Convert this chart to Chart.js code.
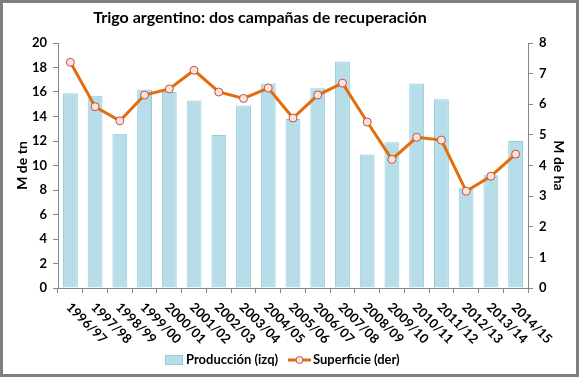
<!DOCTYPE html>
<html>
<head>
<meta charset="utf-8">
<script src="https://cdn.jsdelivr.net/npm/chart.js@4"></script>
<style>
html,body{margin:0;padding:0;background:#fff}
#wrap{width:579px;height:377px;position:relative}
</style>
</head>
<body>
<div id="wrap"><canvas id="chart" width="579" height="377"></canvas></div>
<script>
const campanas = ["1996/97","1997/98","1998/99","1999/00","2000/01","2001/02","2002/03","2003/04","2004/05","2005/06","2006/07","2007/08","2008/09","2009/10","2010/11","2011/12","2012/13","2013/14","2014/15"]
const produccion = [15.9,15.7,12.6,16.2,16.0,15.3,12.5,14.9,16.7,13.8,16.3,18.5,10.9,11.9,16.7,15.4,8.2,9.2,12.0]
const superficie = [7.37,5.92,5.46,6.30,6.50,7.11,6.40,6.19,6.53,5.55,6.30,6.69,5.42,4.20,4.92,4.83,3.16,3.65,4.37]

const titulo = "Trigo argentino: dos campañas de recuperación"
const nombreBarras = "Producción (izq)"
const nombreLinea = "Superficie (der)"

const fuente = "Lato, 'Open Sans', sans-serif"
const gris = "#868686"

const extras = {
id:"extras",
afterDraw(chart){
const ctx = chart.ctx
const x = chart.scales.x
ctx.save()
// marco
ctx.strokeStyle = "#7f7f7f"
ctx.lineWidth = 3
ctx.strokeRect(1.5,1.5,576,374)
// titulo
ctx.fillStyle = "#000"
ctx.font = "bold 16px " + fuente
ctx.textAlign = "center"
ctx.textBaseline = "middle"
ctx.fillText(titulo,260,18)
// etiquetas del eje x giradas
ctx.font = "bold 13px " + fuente
ctx.textAlign = "left"
ctx.textBaseline = "middle"
campanas.forEach((c,i)=>{
const px = x.getPixelForValue(i)
ctx.save()
ctx.translate(px-2,305)
ctx.rotate(Math.PI/4)
ctx.fillText(c,0,0)
ctx.restore()
})
// leyenda
ctx.fillStyle = "#b7dee8"
ctx.strokeStyle = "#93cddd"
ctx.lineWidth = 1
ctx.fillRect(165,355,18,10)
ctx.strokeRect(165.5,355.5,17,9)
ctx.fillStyle = "#000"
ctx.font = "bold 13px " + fuente
ctx.fillText(nombreBarras,186,360)
ctx.strokeStyle = "#e46c0a"
ctx.lineWidth = 3
ctx.beginPath()
ctx.moveTo(288,360)
ctx.lineTo(311,360)
ctx.stroke()
ctx.beginPath()
ctx.arc(299.5,360,3.5,0,Math.PI*2)
ctx.fillStyle = "#fde4d6"
ctx.fill()
ctx.lineWidth = 1
ctx.strokeStyle = "#c0504d"
ctx.stroke()
ctx.fillStyle = "#000"
ctx.fillText(nombreLinea,313,360)
ctx.restore()
}
}

new Chart(document.getElementById("chart"),{
type:"bar",
data:{
labels:campanas,
datasets:[
{
type:"line",
label:nombreLinea,
data:superficie,
yAxisID:"y2",
borderColor:"#e46c0a",
borderWidth:3,
pointRadius:4,
pointBackgroundColor:"#fde4d6",
pointBorderColor:"#c0504d",
pointBorderWidth:1,
tension:0,
order:0
},
{
label:nombreBarras,
data:produccion,
yAxisID:"y",
backgroundColor:"#b7dee8",
borderColor:"#93cddd",
borderWidth:1,
barPercentage:0.6,
categoryPercentage:1,
order:1
}
]
},
options:{
responsive:false,
animation:false,
layout:{padding:{top:43,left:0,right:0,bottom:0}},
plugins:{legend:{display:false},tooltip:{enabled:false}},
scales:{
x:{
grid:{display:true,drawOnChartArea:false,drawTicks:true,tickLength:5,color:gris,offset:true},
border:{color:gris,width:1},
ticks:{display:false},
afterFit(s){s.height=89}
},
y:{
position:"left",
min:0,max:20,
ticks:{stepSize:2,color:"#000",font:{family:fuente,size:13,weight:"bold"},padding:6},
grid:{drawOnChartArea:false,tickLength:5,color:gris},
border:{color:gris,width:1},
title:{display:true,text:"M de tn",color:"#000",font:{family:fuente,size:14,weight:"bold"},padding:{top:14,bottom:0}},
afterFit(s){s.width=58}
},
y2:{
position:"right",
min:0,max:8,
ticks:{stepSize:1,color:"#000",font:{family:fuente,size:13,weight:"bold"},padding:6},
grid:{drawOnChartArea:false,tickLength:5,color:gris},
border:{color:gris,width:1},
title:{display:true,text:"M de ha",color:"#000",font:{family:fuente,size:14,weight:"bold"},padding:{top:12,bottom:0}},
afterFit(s){s.width=51}
}
}
},
plugins:[extras]
})
</script>
</body>
</html>
